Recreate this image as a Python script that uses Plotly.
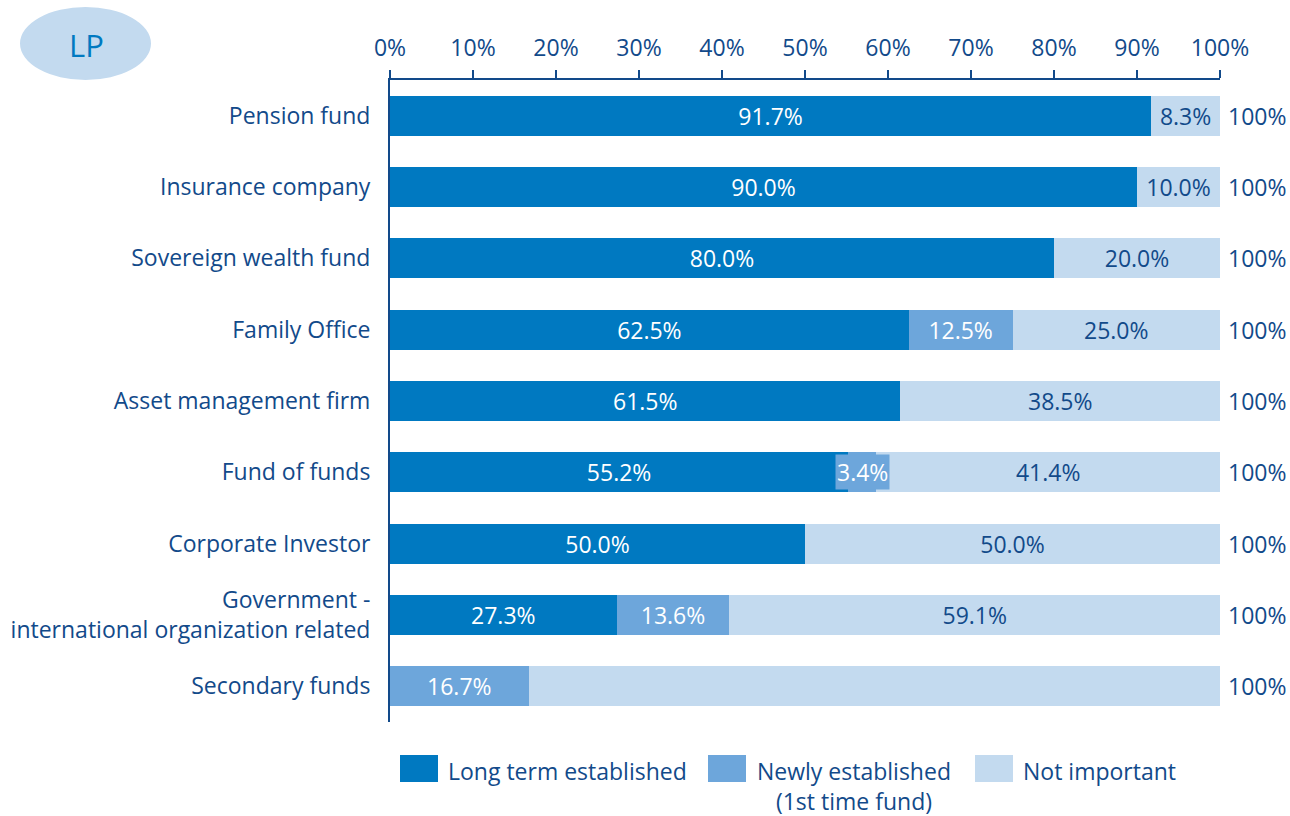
import plotly.graph_objects as go

categories = [
    "Pension fund",
    "Insurance company",
    "Sovereign wealth fund",
    "Family Office",
    "Asset management firm",
    "Fund of funds",
    "Corporate Investor",
    "Government -<br>international organization related",
    "Secondary funds",
]
long_term = [91.7, 90.0, 80.0, 62.5, 61.5, 55.2, 50.0, 27.3, 0.0]
newly = [0.0, 0.0, 0.0, 12.5, 0.0, 3.4, 0.0, 13.6, 16.7]
not_important = [8.3, 10.0, 20.0, 25.0, 38.5, 41.4, 50.0, 59.1, 83.3]
# the light segment of "Secondary funds" carries no label in the source
unlabelled = {("Not important", "Secondary funds")}

tick_vals = list(range(0, 101, 10))
tick_text = [f"{v}%" for v in tick_vals]

DARK = "#0079C1"
MID = "#6DA6DB"
LIGHT = "#C3DAEF"
NAVY = "#124A8A"
FONT = "'Open Sans', Lato, sans-serif"
SIZE = 23

# plot area in pixels (used only to place the hand-drawn legend and badge)
W, H = 1290, 816
L, R, T, B = 390, 70, 80, 94


def px(x):
    return (x - L) / (W - L - R)


def py(y):
    return (H - B - y) / (H - T - B)


series = [
    ("Long term established", long_term, DARK, "white"),
    ("Newly established<br>(1st time fund)", newly, MID, "white"),
    ("Not important", not_important, LIGHT, NAVY),
]

fig = go.Figure()
annotations = []
for name, vals, color, tcolor in series:
    key = name.split("<br>")[0]
    labels = []
    for cat, v in zip(categories, vals):
        if v == 0 or (key, cat) in unlabelled or v < 5:
            labels.append("")
        else:
            labels.append(f"{v:.1f}%")
    fig.add_trace(
        go.Bar(
            y=categories,
            x=vals,
            name=name,
            orientation="h",
            marker=dict(color=color, line=dict(width=0)),
            text=labels,
            texttemplate="%{text}",
            textposition="inside",
            insidetextanchor="middle",
            textangle=0,
            textfont=dict(color=tcolor, size=SIZE, family=FONT),
            hoverinfo="skip",
            showlegend=False,
        )
    )

# small segments: label sits on a box wider than the segment
for i, cat in enumerate(categories):
    v = newly[i]
    if 0 < v < 5:
        annotations.append(
            dict(
                x=long_term[i] + v / 2,
                y=cat,
                xref="x",
                yref="y",
                text=f"{v:.1f}%",
                showarrow=False,
                bgcolor=MID,
                borderpad=1,
                font=dict(color="white", size=SIZE, family=FONT),
            )
        )

# row totals on the right
for i, cat in enumerate(categories):
    total = long_term[i] + newly[i] + not_important[i]
    annotations.append(
        dict(
            x=100,
            y=cat,
            xref="x",
            yref="y",
            text=f"{total:.0f}%",
            xanchor="left",
            xshift=6,
            showarrow=False,
            font=dict(color=NAVY, size=SIZE, family=FONT),
        )
    )

# LP badge
shapes = [
    dict(
        type="circle",
        xref="paper",
        yref="paper",
        x0=px(20),
        x1=px(151),
        y0=py(80),
        y1=py(7),
        fillcolor=LIGHT,
        line=dict(width=0),
        layer="below",
    )
]
annotations.append(
    dict(
        x=px(86),
        y=py(45),
        xref="paper",
        yref="paper",
        text="LP",
        xanchor="center",
        yanchor="middle",
        showarrow=False,
        font=dict(color=DARK, size=31, family=FONT),
    )
)

# legend drawn by hand for its large swatches
legend_items = [
    ("Long term established", DARK, 400, 446),
    ("Newly established<br>(1st time fund)", MID, 708, 755),
    ("Not important", LIGHT, 975, 1021),
]
for text, color, sx, tx in legend_items:
    shapes.append(
        dict(
            type="rect",
            xref="paper",
            yref="paper",
            x0=px(sx),
            x1=px(sx + 38),
            y0=py(782),
            y1=py(755),
            fillcolor=color,
            line=dict(width=0),
        )
    )
    annotations.append(
        dict(
            x=px(tx),
            y=py(753),
            xref="paper",
            yref="paper",
            text=text,
            xanchor="left",
            yanchor="top",
            align="center",
            showarrow=False,
            font=dict(color=NAVY, size=SIZE, family=FONT),
        )
    )

fig.update_layout(
    barmode="stack",
    bargap=0.44,
    width=W,
    height=H,
    margin=dict(l=L, r=R, t=T, b=B),
    plot_bgcolor="white",
    paper_bgcolor="white",
    font=dict(family=FONT, color=NAVY, size=SIZE),
    uniformtext=dict(minsize=SIZE, mode="show"),
    shapes=shapes,
    annotations=annotations,
    xaxis=dict(
        side="top",
        range=[0, 100],
        tickvals=tick_vals,
        ticktext=tick_text,
        ticks="outside",
        ticklen=8,
        tickwidth=1.5,
        tickcolor=NAVY,
        showline=True,
        linecolor=NAVY,
        linewidth=2,
        showgrid=False,
        zeroline=False,
        ticklabelstandoff=5,
        tickfont=dict(size=SIZE, color=NAVY),
        fixedrange=True,
    ),
    yaxis=dict(
        autorange="reversed",
        showline=True,
        linecolor=NAVY,
        linewidth=2,
        ticks="",
        showgrid=False,
        ticklabelstandoff=13,
        tickfont=dict(size=SIZE, color=NAVY),
        fixedrange=True,
    ),
)

# drop the default 8px body margin so the figure fills the window exactly
fig.write_html(
    "out.html",
    config={"displayModeBar": False},
    post_script="document.body.style.margin='0';",
)
